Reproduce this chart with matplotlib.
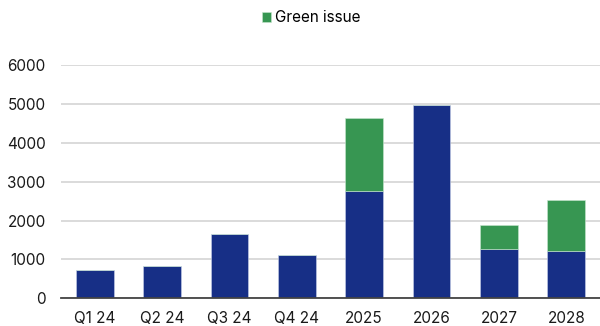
import matplotlib.pyplot as plt
import numpy as np

plt.rcParams['font.family'] = ['Inter', 'DejaVu Sans']

labels = ['Q1 24', 'Q2 24', 'Q3 24', 'Q4 24', '2025', '2026', '2027', '2028']
base = [720, 840, 1665, 1115, 2770, 4970, 1280, 1230]
green = [0, 0, 0, 0, 1865, 0, 610, 1305]

blue_c = '#172f86'
green_c = '#379652'

fig = plt.figure(figsize=(6, 3.26), dpi=100)
ax = fig.add_axes([61 / 600, 27.7 / 326, 539 / 600, 232.9 / 326])

x = np.arange(len(labels))
ax.bar(x, base, width=0.56, color=blue_c, edgecolor='#c8d0e8', linewidth=0.4, zorder=3)
ax.bar(x, green, width=0.56, bottom=base, color=green_c, edgecolor='#c8e6cf',
       linewidth=0.4, zorder=3, label='Green issue')

ax.set_xlim(-0.5, len(labels) - 0.5)
ax.set_ylim(0, 6000)
ax.set_yticks(range(0, 6001, 1000))
ax.set_xticks(x)
ax.set_xticklabels(labels)
ax.grid(axis='y', color='#d4d4d4', linewidth=1.2, zorder=0)
ax.tick_params(axis='both', length=0, labelsize=11, colors='#1a1a1a')
ax.tick_params(axis='y', pad=11)
ax.tick_params(axis='x', pad=9)
for s in ['top', 'right', 'left']:
    ax.spines[s].set_visible(False)
ax.spines['bottom'].set_color('#444444')
ax.spines['bottom'].set_linewidth(1.3)
ax.spines['bottom'].set_zorder(4)

fig.legend(loc='center left', bbox_to_anchor=(262 / 600, 1 - 18 / 326), frameon=False,
           fontsize=11, handlelength=0.6, handleheight=0.6, handletextpad=0.25,
           borderaxespad=0, borderpad=0)

fig.savefig('out.png', dpi=100)
